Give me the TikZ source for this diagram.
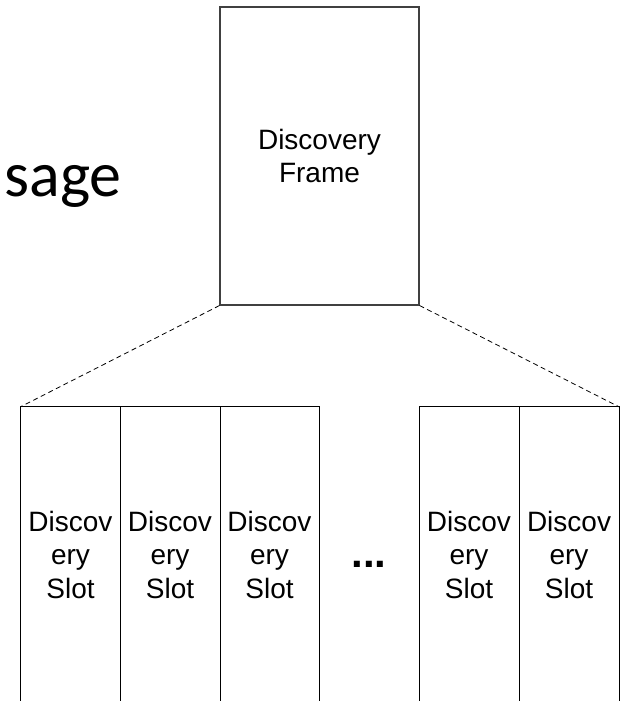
\documentclass[tikz,border=0pt]{standalone}
\usepackage{fontspec}
\setmainfont{Liberation Sans}
\newfontfamily\msgfont{Carlito}
\begin{document}
\begin{tikzpicture}[x=1pt,y=-1pt,
  boxtext/.style={font=\fontsize{28}{33.5}\selectfont, align=center, inner sep=0pt, text=black},
  framebox/.style={boxtext, draw=black!75, line width=1.1pt, minimum width=199pt, minimum height=298pt},
  slotbox/.style={boxtext, minimum width=99.5pt, minimum height=295pt},
  slotline/.style={draw=black, line width=0.9pt},
  zoomline/.style={draw=black, line width=0.8pt, dash pattern=on 5pt off 3.5pt}]
\useasboundingbox (0,0) rectangle (627,701);
\node[anchor=base east, inner sep=0pt, font=\msgfont\fontsize{64}{72}\selectfont] (msg) at (122,196) {sage};
\node[framebox] (frame) at (319.5,156) {Discovery\\Frame};
\node[slotbox] (s1) at (70.5,554.5) {Discov\\ery\\Slot};
\node[slotbox] (s2) at (170,554.5) {Discov\\ery\\Slot};
\node[slotbox] (s3) at (269.5,554.5) {Discov\\ery\\Slot};
\node[inner sep=0pt, font=\bfseries\fontsize{42}{42}\selectfont] (dots) at (369,564) {...};
\node[slotbox] (s4) at (469,554.5) {Discov\\ery\\Slot};
\node[slotbox] (s5) at (569,554.5) {Discov\\ery\\Slot};
\path[slotline] (s1.south west) -- (s1.north west) -- (s3.north east) -- (s3.south east);
\path[slotline] (s1.north east) -- (s1.south east);
\path[slotline] (s2.north east) -- (s2.south east);
\path[slotline] (s4.south west) -- (s4.north west) -- (s5.north east) -- (s5.south east);
\path[slotline] (s4.north east) -- (s4.south east);
\path[zoomline] (frame.south west) -- (s1.north west);
\path[zoomline] (frame.south east) -- (s5.north east);
\end{tikzpicture}
\end{document}
